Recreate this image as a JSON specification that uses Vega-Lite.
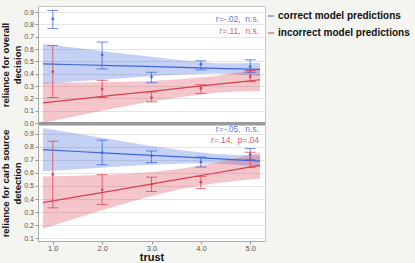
{
  "$schema": "https://vega.github.io/schema/vega-lite/v6.json",
  "background": "#f4f4f0",
  "padding": {"left": 0, "top": 5, "right": 2, "bottom": 0},
  "bounds": "flush",
  "datasets": {
    "fits": [
      {"panel": "top", "group": "correct model predictions", "trust": 0.8, "fit": 0.480, "lo": 0.318, "hi": 0.642},
      {"panel": "top", "group": "correct model predictions", "trust": 1.5, "fit": 0.473, "lo": 0.338, "hi": 0.608},
      {"panel": "top", "group": "correct model predictions", "trust": 2.2, "fit": 0.466, "lo": 0.358, "hi": 0.574},
      {"panel": "top", "group": "correct model predictions", "trust": 2.9, "fit": 0.459, "lo": 0.377, "hi": 0.541},
      {"panel": "top", "group": "correct model predictions", "trust": 3.6, "fit": 0.451, "lo": 0.393, "hi": 0.509},
      {"panel": "top", "group": "correct model predictions", "trust": 4.3, "fit": 0.444, "lo": 0.402, "hi": 0.486},
      {"panel": "top", "group": "correct model predictions", "trust": 4.75, "fit": 0.440, "lo": 0.395, "hi": 0.485},
      {"panel": "top", "group": "correct model predictions", "trust": 5.2, "fit": 0.435, "lo": 0.380, "hi": 0.490},
      {"panel": "top", "group": "incorrect model predictions", "trust": 0.8, "fit": 0.164, "lo": -0.001, "hi": 0.329},
      {"panel": "top", "group": "incorrect model predictions", "trust": 1.5, "fit": 0.194, "lo": 0.059, "hi": 0.329},
      {"panel": "top", "group": "incorrect model predictions", "trust": 2.2, "fit": 0.224, "lo": 0.116, "hi": 0.332},
      {"panel": "top", "group": "incorrect model predictions", "trust": 2.9, "fit": 0.253, "lo": 0.168, "hi": 0.338},
      {"panel": "top", "group": "incorrect model predictions", "trust": 3.6, "fit": 0.283, "lo": 0.211, "hi": 0.355},
      {"panel": "top", "group": "incorrect model predictions", "trust": 4.3, "fit": 0.313, "lo": 0.245, "hi": 0.381},
      {"panel": "top", "group": "incorrect model predictions", "trust": 4.75, "fit": 0.332, "lo": 0.255, "hi": 0.409},
      {"panel": "top", "group": "incorrect model predictions", "trust": 5.2, "fit": 0.351, "lo": 0.259, "hi": 0.443},
      {"panel": "bottom", "group": "correct model predictions", "trust": 0.8, "fit": 0.777, "lo": 0.612, "hi": 0.942},
      {"panel": "bottom", "group": "correct model predictions", "trust": 1.5, "fit": 0.763, "lo": 0.628, "hi": 0.898},
      {"panel": "bottom", "group": "correct model predictions", "trust": 2.2, "fit": 0.749, "lo": 0.644, "hi": 0.854},
      {"panel": "bottom", "group": "correct model predictions", "trust": 2.9, "fit": 0.735, "lo": 0.660, "hi": 0.810},
      {"panel": "bottom", "group": "correct model predictions", "trust": 3.6, "fit": 0.722, "lo": 0.672, "hi": 0.772},
      {"panel": "bottom", "group": "correct model predictions", "trust": 4.3, "fit": 0.708, "lo": 0.672, "hi": 0.744},
      {"panel": "bottom", "group": "correct model predictions", "trust": 4.75, "fit": 0.699, "lo": 0.662, "hi": 0.736},
      {"panel": "bottom", "group": "correct model predictions", "trust": 5.2, "fit": 0.690, "lo": 0.645, "hi": 0.735},
      {"panel": "bottom", "group": "incorrect model predictions", "trust": 0.8, "fit": 0.373, "lo": 0.173, "hi": 0.573},
      {"panel": "bottom", "group": "incorrect model predictions", "trust": 1.5, "fit": 0.418, "lo": 0.258, "hi": 0.578},
      {"panel": "bottom", "group": "incorrect model predictions", "trust": 2.2, "fit": 0.463, "lo": 0.338, "hi": 0.588},
      {"panel": "bottom", "group": "incorrect model predictions", "trust": 2.9, "fit": 0.508, "lo": 0.413, "hi": 0.603},
      {"panel": "bottom", "group": "incorrect model predictions", "trust": 3.6, "fit": 0.554, "lo": 0.476, "hi": 0.632},
      {"panel": "bottom", "group": "incorrect model predictions", "trust": 4.3, "fit": 0.599, "lo": 0.521, "hi": 0.677},
      {"panel": "bottom", "group": "incorrect model predictions", "trust": 4.75, "fit": 0.628, "lo": 0.540, "hi": 0.716},
      {"panel": "bottom", "group": "incorrect model predictions", "trust": 5.2, "fit": 0.657, "lo": 0.557, "hi": 0.757}
    ],
    "means": [
      {"panel": "top", "group": "correct model predictions", "trust": 1, "mean": 0.845, "lo": 0.767, "hi": 0.914},
      {"panel": "top", "group": "correct model predictions", "trust": 2, "mean": 0.554, "lo": 0.439, "hi": 0.657},
      {"panel": "top", "group": "correct model predictions", "trust": 3, "mean": 0.374, "lo": 0.327, "hi": 0.412},
      {"panel": "top", "group": "correct model predictions", "trust": 4, "mean": 0.477, "lo": 0.431, "hi": 0.505},
      {"panel": "top", "group": "correct model predictions", "trust": 5, "mean": 0.458, "lo": 0.412, "hi": 0.513},
      {"panel": "top", "group": "incorrect model predictions", "trust": 1, "mean": 0.417, "lo": 0.207, "hi": 0.630},
      {"panel": "top", "group": "incorrect model predictions", "trust": 2, "mean": 0.276, "lo": 0.207, "hi": 0.346},
      {"panel": "top", "group": "incorrect model predictions", "trust": 3, "mean": 0.207, "lo": 0.172, "hi": 0.251},
      {"panel": "top", "group": "incorrect model predictions", "trust": 4, "mean": 0.281, "lo": 0.240, "hi": 0.311},
      {"panel": "top", "group": "incorrect model predictions", "trust": 5, "mean": 0.376, "lo": 0.336, "hi": 0.426},
      {"panel": "bottom", "group": "correct model predictions", "trust": 2, "mean": 0.754, "lo": 0.662, "hi": 0.849},
      {"panel": "bottom", "group": "correct model predictions", "trust": 3, "mean": 0.728, "lo": 0.678, "hi": 0.767},
      {"panel": "bottom", "group": "correct model predictions", "trust": 4, "mean": 0.683, "lo": 0.644, "hi": 0.721},
      {"panel": "bottom", "group": "correct model predictions", "trust": 5, "mean": 0.740, "lo": 0.700, "hi": 0.785},
      {"panel": "bottom", "group": "incorrect model predictions", "trust": 1, "mean": 0.588, "lo": 0.333, "hi": 0.841},
      {"panel": "bottom", "group": "incorrect model predictions", "trust": 2, "mean": 0.471, "lo": 0.358, "hi": 0.586},
      {"panel": "bottom", "group": "incorrect model predictions", "trust": 3, "mean": 0.511, "lo": 0.458, "hi": 0.567},
      {"panel": "bottom", "group": "incorrect model predictions", "trust": 4, "mean": 0.529, "lo": 0.479, "hi": 0.573},
      {"panel": "bottom", "group": "incorrect model predictions", "trust": 5, "mean": 0.700, "lo": 0.640, "hi": 0.757}
    ],
    "notes": [
      {"panel": "top", "group": "correct model predictions", "trust": 5.18, "value": 0.848, "label": "r=-.02,\u00a0 n.s."},
      {"panel": "top", "group": "incorrect model predictions", "trust": 5.18, "value": 0.745, "label": "r=.11,\u00a0 n.s."},
      {"panel": "bottom", "group": "correct model predictions", "trust": 5.18, "value": 0.935, "label": "r=-.05,\u00a0 n.s."},
      {"panel": "bottom", "group": "incorrect model predictions", "trust": 5.18, "value": 0.852, "label": "r=.14,\u00a0 p=.04"}
    ]
  },
  "spacing": 2,
  "vconcat": [
    {
      "width": 227,
      "height": 117,
      "encoding": {
        "x": {"type": "quantitative", "scale": {"domain": [0.7, 5.3], "nice": false, "zero": false},
              "axis": {"labels": false, "ticks": false, "title": null, "grid": false, "domainColor": "#9a9a9a", "domainWidth": 3}}
      },
      "layer": [
        {
          "data": {"name": "fits"},
          "transform": [{"filter": "datum.panel === 'top'"}],
          "mark": {"type": "area", "opacity": 0.3, "clip": true},
          "encoding": {
            "x": {"field": "trust", "type": "quantitative"},
            "y": {"field": "lo", "type": "quantitative", "scale": {"domain": [0, 0.95], "nice": false, "zero": false},
                  "axis": {"values": [0, 0.1, 0.2, 0.3, 0.4, 0.5, 0.6, 0.7, 0.8, 0.9], "tickCount": 10, "labelOverlap": false, "format": ".1f", "title": ["reliance for overall", "decision"]}},
            "y2": {"field": "hi"},
            "color": {"field": "group", "type": "nominal"}
          }
        },
        {
          "data": {"name": "fits"},
          "transform": [{"filter": "datum.panel === 'top'"}],
          "mark": {"type": "line", "strokeWidth": 1.2, "clip": true},
          "encoding": {
            "x": {"field": "trust", "type": "quantitative"},
            "y": {"field": "fit", "type": "quantitative"},
            "color": {"field": "group", "type": "nominal"}
          }
        },
        {
          "data": {"name": "means"},
          "transform": [{"filter": "datum.panel === 'top'"}],
          "mark": {"type": "rule", "opacity": 0.75, "strokeWidth": 1},
          "encoding": {
            "x": {"field": "trust", "type": "quantitative"},
            "y": {"field": "lo", "type": "quantitative"},
            "y2": {"field": "hi"},
            "color": {"field": "group", "type": "nominal"}
          }
        },
        {
          "data": {"name": "means"},
          "transform": [{"filter": "datum.panel === 'top'"}],
          "mark": {"type": "tick", "orient": "horizontal", "size": 11, "thickness": 1, "opacity": 0.75},
          "encoding": {
            "x": {"field": "trust", "type": "quantitative"},
            "y": {"field": "lo", "type": "quantitative"},
            "color": {"field": "group", "type": "nominal"}
          }
        },
        {
          "data": {"name": "means"},
          "transform": [{"filter": "datum.panel === 'top'"}],
          "mark": {"type": "tick", "orient": "horizontal", "size": 11, "thickness": 1, "opacity": 0.75},
          "encoding": {
            "x": {"field": "trust", "type": "quantitative"},
            "y": {"field": "hi", "type": "quantitative"},
            "color": {"field": "group", "type": "nominal"}
          }
        },
        {
          "data": {"name": "means"},
          "transform": [{"filter": "datum.panel === 'top'"}],
          "mark": {"type": "point", "filled": true, "size": 7, "opacity": 1},
          "encoding": {
            "x": {"field": "trust", "type": "quantitative"},
            "y": {"field": "mean", "type": "quantitative"},
            "color": {"field": "group", "type": "nominal"}
          }
        },
        {
          "data": {"name": "notes"},
          "transform": [{"filter": "datum.panel === 'top'"}],
          "mark": {"type": "text", "align": "right", "baseline": "middle", "fontSize": 8.5, "font": "Liberation Sans", "opacity": 0.85},
          "encoding": {
            "x": {"field": "trust", "type": "quantitative"},
            "y": {"field": "value", "type": "quantitative"},
            "text": {"field": "label"},
            "color": {"field": "group", "type": "nominal"}
          }
        }
      ]
    },
    {
      "width": 227,
      "height": 116,
      "encoding": {
        "x": {"type": "quantitative", "scale": {"domain": [0.7, 5.3], "nice": false, "zero": false},
              "axis": {"values": [1, 2, 3, 4, 5], "tickCount": 5, "format": ".1f", "title": "trust", "grid": false}}
      },
      "layer": [
        {
          "data": {"name": "fits"},
          "transform": [{"filter": "datum.panel === 'bottom'"}],
          "mark": {"type": "area", "opacity": 0.3, "clip": true},
          "encoding": {
            "x": {"field": "trust", "type": "quantitative"},
            "y": {"field": "lo", "type": "quantitative", "scale": {"domain": [0.08, 0.965], "nice": false, "zero": false},
                  "axis": {"values": [0.1, 0.2, 0.3, 0.4, 0.5, 0.6, 0.7, 0.8, 0.9], "tickCount": 9, "labelOverlap": false, "format": ".1f", "title": ["reliance for carb source", "detection"]}},
            "y2": {"field": "hi"},
            "color": {"field": "group", "type": "nominal"}
          }
        },
        {
          "data": {"name": "fits"},
          "transform": [{"filter": "datum.panel === 'bottom'"}],
          "mark": {"type": "line", "strokeWidth": 1.2, "clip": true},
          "encoding": {
            "x": {"field": "trust", "type": "quantitative"},
            "y": {"field": "fit", "type": "quantitative"},
            "color": {"field": "group", "type": "nominal"}
          }
        },
        {
          "data": {"name": "means"},
          "transform": [{"filter": "datum.panel === 'bottom'"}],
          "mark": {"type": "rule", "opacity": 0.75, "strokeWidth": 1},
          "encoding": {
            "x": {"field": "trust", "type": "quantitative"},
            "y": {"field": "lo", "type": "quantitative"},
            "y2": {"field": "hi"},
            "color": {"field": "group", "type": "nominal"}
          }
        },
        {
          "data": {"name": "means"},
          "transform": [{"filter": "datum.panel === 'bottom'"}],
          "mark": {"type": "tick", "orient": "horizontal", "size": 11, "thickness": 1, "opacity": 0.75},
          "encoding": {
            "x": {"field": "trust", "type": "quantitative"},
            "y": {"field": "lo", "type": "quantitative"},
            "color": {"field": "group", "type": "nominal"}
          }
        },
        {
          "data": {"name": "means"},
          "transform": [{"filter": "datum.panel === 'bottom'"}],
          "mark": {"type": "tick", "orient": "horizontal", "size": 11, "thickness": 1, "opacity": 0.75},
          "encoding": {
            "x": {"field": "trust", "type": "quantitative"},
            "y": {"field": "hi", "type": "quantitative"},
            "color": {"field": "group", "type": "nominal"}
          }
        },
        {
          "data": {"name": "means"},
          "transform": [{"filter": "datum.panel === 'bottom'"}],
          "mark": {"type": "point", "filled": true, "size": 7, "opacity": 1},
          "encoding": {
            "x": {"field": "trust", "type": "quantitative"},
            "y": {"field": "mean", "type": "quantitative"},
            "color": {"field": "group", "type": "nominal"}
          }
        },
        {
          "data": {"name": "notes"},
          "transform": [{"filter": "datum.panel === 'bottom'"}],
          "mark": {"type": "text", "align": "right", "baseline": "middle", "fontSize": 8.5, "font": "Liberation Sans", "opacity": 0.85},
          "encoding": {
            "x": {"field": "trust", "type": "quantitative"},
            "y": {"field": "value", "type": "quantitative"},
            "text": {"field": "label"},
            "color": {"field": "group", "type": "nominal"}
          }
        }
      ]
    }
  ],
  "resolve": {"scale": {"y": "independent"}},
  "config": {
    "font": "Liberation Sans",
    "view": {"fill": "white", "stroke": "#c8c8c8", "strokeWidth": 1},
    "range": {"category": ["#3d66d9", "#d9404f"]},
    "legend": {"title": null, "orient": "right", "offset": -5, "padding": 5, "symbolType": "stroke", "symbolSize": 40, "symbolStrokeWidth": 1.2, "symbolOpacity": 0.8, "labelFont": "Liberation Sans", "labelFontWeight": "bold", "labelFontSize": 10, "labelColor": "#111111", "labelOffset": 2, "rowPadding": 7},
    "axis": {
      "labelFont": "Liberation Sans",
      "labelFontSize": 7,
      "labelColor": "#555555",
      "titleFont": "Liberation Sans",
      "titleFontSize": 9.5,
      "titleFontWeight": "bold",
      "titleColor": "#111111",
      "titleLineHeight": 12,
      "tickColor": "#999999",
      "tickSize": 3,
      "domainColor": "#aaaaaa",
      "gridColor": "#e4e4e4",
      "labelPadding": 1.5,
      "titlePadding": 1
    },
    "axisX": {"titleFontSize": 11, "labelFontSize": 7.5, "labelPadding": 0, "titlePadding": 0}
  }
}
